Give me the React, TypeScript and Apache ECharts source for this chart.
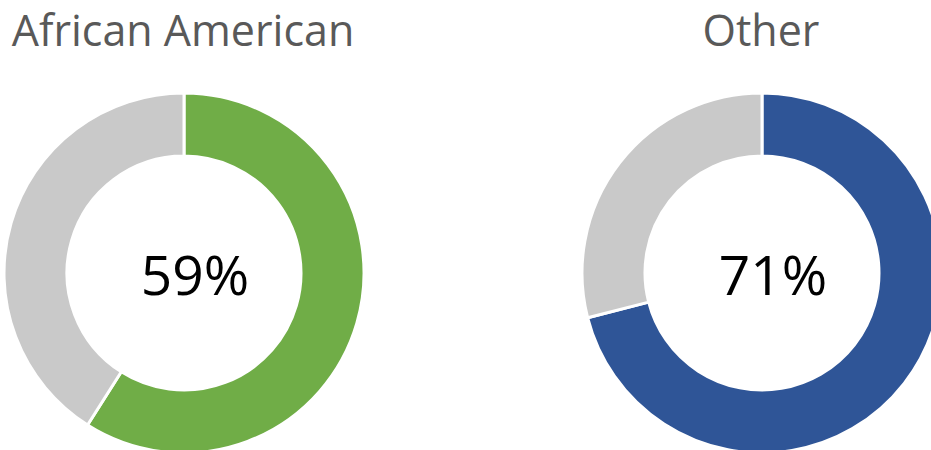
import React, { useEffect, useRef } from "react";
import * as echarts from "echarts";

const groups = ["African American", "Other"];
const percentValues = [59, 71];
const remainderValues = [41, 29];
const colors = ["#70AD47", "#2F5597"];
const restColor = "#C9C9C9";

export default function App() {
  const ref = useRef<HTMLDivElement>(null);
  useEffect(() => {
    document.body.style.margin = "0";
    const chart = echarts.init(ref.current!, null, { renderer: "svg" });
    const centersX = [184, 762];
    chart.setOption({
      animation: false,
      backgroundColor: "#fff",
      title: groups.map((g, i) => ({
        text: g,
        left: centersX[i] - 1,
        top: 1,
        padding: 0,
        textAlign: "center",
        textStyle: {
          fontFamily: "Open Sans",
          fontWeight: "normal",
          fontSize: 43,
          lineHeight: 56,
          color: "#595959",
        },
      })),
      series: groups.map((g, i) => ({
        type: "pie",
        name: g,
        center: [centersX[i], 273],
        radius: [117, 180],
        startAngle: 90,
        clockwise: true,
        silent: true,
        itemStyle: { borderColor: "#fff", borderWidth: 3 },
        labelLine: { show: false },
        data: [
          {
            name: g,
            value: percentValues[i],
            itemStyle: { color: colors[i] },
            label: {
              show: true,
              position: "center",
              formatter: `${percentValues[i]}%`,
              fontFamily: "Open Sans",
              fontSize: 55,
              color: "#000",
              padding: [0, 0, 0, 22],
            },
          },
          {
            name: "rest",
            value: remainderValues[i],
            itemStyle: { color: restColor },
            label: { show: false },
          },
        ],
      })),
    });
    return () => chart.dispose();
  }, []);
  return (
    <div
      ref={ref}
      style={{ position: "absolute", left: 0, top: 0, width: 931, height: 450 }}
    />
  );
}
